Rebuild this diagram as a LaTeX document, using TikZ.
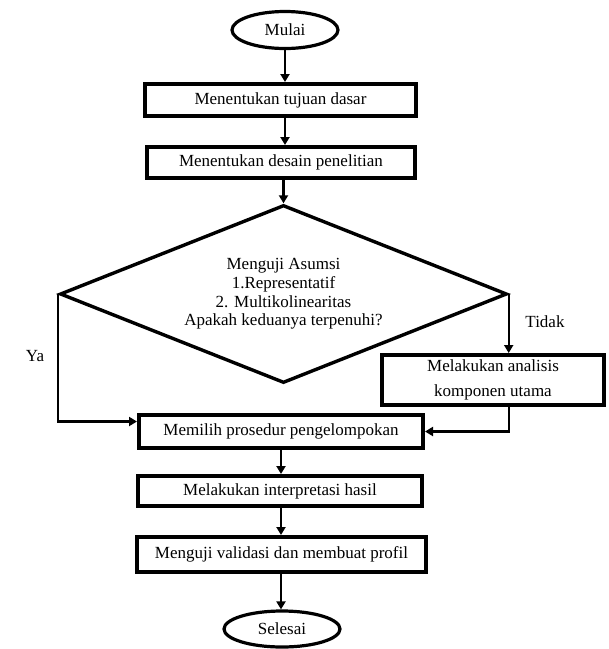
\documentclass[tikz,border=0pt]{standalone}
\usepackage{fontspec}
\setmainfont{Liberation Serif}
\usetikzlibrary{shapes.geometric,arrows.meta}
\begin{document}
\begin{tikzpicture}[x=1pt,y=-1pt,
  every node/.style={font=\fontsize{17}{18.7}\selectfont, inner sep=0pt},
  procbox/.style={draw, line width=4pt, rectangle, align=center},
  term/.style={draw, line width=3.2pt, ellipse},
  decision/.style={draw, line width=3.4pt, diamond, aspect=2.5, align=center},
  conn/.style={line width=2.3pt, -{Triangle[length=8pt,width=9pt]}},
  lbl/.style={}
]
\useasboundingbox (0,0) rectangle (609,649);
\node[term, minimum width=106pt, minimum height=37pt] (start) at (285,30) {Mulai};
\node[procbox, minimum width=271pt, minimum height=32pt] (b1) at (280.5,100) {Menentukan tujuan dasar};
\node[procbox, minimum width=268pt, minimum height=31pt] (b2) at (281,162.5) {Menentukan desain penelitian};
\node[decision, minimum width=447pt, minimum height=178pt] (dec) at (283.5,294)
  {Menguji Asumsi\\1.Representatif\\2. Multikolinearitas\\Apakah keduanya terpenuhi?};
\node[procbox, minimum width=222pt, minimum height=50pt, font=\fontsize{17}{25}\selectfont] (alt) at (493,380) {Melakukan analisis\\komponen utama};
\node[procbox, minimum width=284pt, minimum height=33pt] (b3) at (281,431.5) {Memilih prosedur pengelompokan};
\node[procbox, minimum width=284pt, minimum height=30pt] (b4) at (280,491) {Melakukan interpretasi hasil};
\node[procbox, minimum width=289pt, minimum height=35pt] (b5) at (281.5,554.5) {Menguji validasi dan membuat profil};
\node[term, minimum width=116pt, minimum height=36pt] (stop) at (282,629) {Selesai};
\node[lbl] (ya) at (35,356) {Ya};
\node[lbl] (tidak) at (545,322) {Tidak};

\draw[conn] (start.south) -- (start.south |- b1.north);
\draw[conn] (b1.south -| start.south) -- (start.south |- b2.north);
\draw[conn] (b2.south -| dec.north) -- (dec.north);
\draw[conn] (dec.west) |- ([yshift=10pt]b3.west);
\draw[conn] (dec.east) -- (dec.east |- alt.north);
\draw[conn] (dec.east |- alt.south) |- (b3.east);
\draw[conn] (b3.south) -- (b3.south |- b4.north);
\draw[conn] (b4.south -| b3.south) -- (b3.south |- b5.north);
\draw[conn] (b5.south -| b3.south) -- (b3.south |- stop.north);
\end{tikzpicture}
\end{document}
